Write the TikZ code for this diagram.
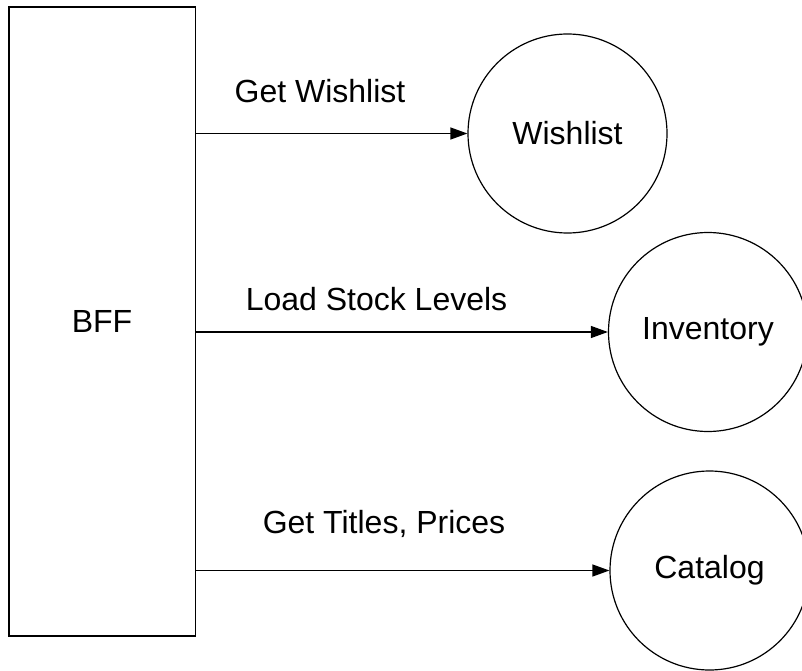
\documentclass[tikz,border=0pt]{standalone}
\usepackage{fontspec}
\setmainfont{Liberation Sans}
\usetikzlibrary{calc,arrows.meta}

\begin{document}
\begin{tikzpicture}[x=1pt,y=-1pt,
    every node/.style={font=\fontsize{32}{38}\selectfont},
    service/.style={draw,circle,line width=1.2pt,minimum size=199pt,inner sep=0pt},
    call/.style={line width=1.2pt,-{Triangle[length=17pt,width=12pt]}},
    lbl/.style={anchor=base}]
  \useasboundingbox (0,0) rectangle (802,671);

  % the backend-for-frontend box
  \node[draw,line width=1.5pt,minimum width=186.5pt,minimum height=629pt,inner sep=0pt]
    (bff) at (102,321.5) {BFF};

  % downstream services
  \node[service] (wishlist)  at (567.5,133.5) {Wishlist};
  \node[service] (inventory) at (708,332)     {Inventory};
  \node[service] (catalog)   at (709.5,570.5) {Catalog};

  % calls from the BFF
  \draw[call] (bff.east |- wishlist.west) -- (wishlist.west);
  \draw[call] (bff.east |- inventory.west) -- (inventory.west);
  \draw[call] (bff.east |- catalog.west) -- (catalog.west);

  % call labels
  \node[lbl] (getwish)  at (320,103) {Get Wishlist};
  \node[lbl] (loadstk)  at (376.5,310) {Load Stock Levels};
  \node[lbl] (gettitle) at (384,533) {Get Titles, Prices};
\end{tikzpicture}
\end{document}
